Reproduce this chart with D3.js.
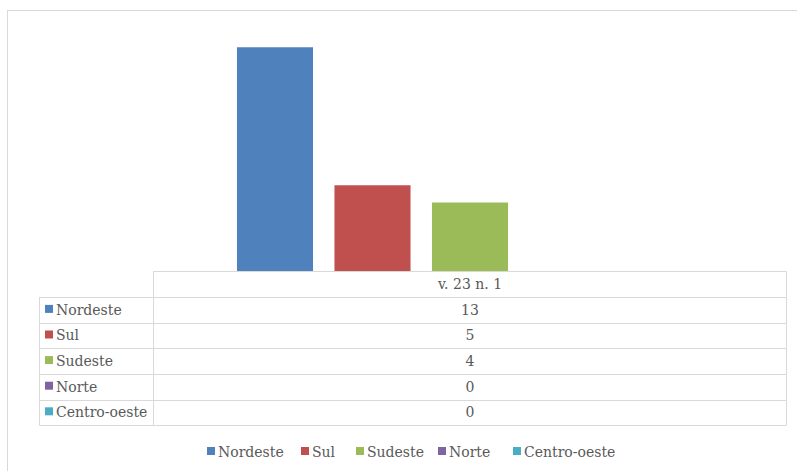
<!DOCTYPE html>
<html>
<head>
<meta charset="utf-8">
<script src="https://cdn.jsdelivr.net/npm/d3@7"></script>
<style>
  body { margin: 0; background: #fff; }
</style>
</head>
<body>
<div id="chart"></div>
<script>
var w = 797, h = 471;

// data
var category = "v. 23 n. 1";
var regions = ["Nordeste", "Sul", "Sudeste", "Norte", "Centro-oeste"];
var values = [13, 5, 4, 0, 0];
var colors = ["#4F81BD", "#C0504D", "#9BBB59", "#8064A2", "#4BACC6"];

var font = "'DejaVu Serif', 'Liberation Serif', serif";
var fontSize = 14;

var svg = d3.select("#chart")
  .append("svg")
  .attr("width", w)
  .attr("height", h)
  .attr("font-family", font)
  .attr("fill", "#595959");

// chart border (runs off the right and bottom edges)
svg.append("rect")
  .attr("x", 7.5).attr("y", 10.5)
  .attr("width", w + 10).attr("height", h + 10)
  .attr("fill", "#fff")
  .attr("stroke", "#d9d9d9");

var tableLeft = 39.5, colX = 153.5, tableRight = 786.5;
var base = 271.5, rowH = 25.6;

var x0 = d3.scaleBand()
  .domain([category])
  .range([colX, tableRight]);

var x1 = d3.scaleBand()
  .domain(regions)
  .range([x0(category), x0(category) + x0.bandwidth()])
  .paddingInner(0.22)
  .paddingOuter(0.856);

var y = d3.scaleLinear()
  .domain([0, 14])
  .range([base, 30]);

svg.selectAll(".bar")
  .data(values)
  .enter().append("rect")
  .attr("class", "bar")
  .attr("x", (d, i) => x1(regions[i]))
  .attr("width", x1.bandwidth())
  .attr("y", d => y(d))
  .attr("height", d => base - y(d))
  .attr("fill", (d, i) => colors[i]);

// data table
var grid = svg.append("g")
  .attr("stroke", "#d9d9d9")
  .attr("fill", "none");

// header row only spans the value column
grid.append("line").attr("x1", colX).attr("x2", tableRight).attr("y1", base).attr("y2", base);
grid.append("line").attr("x1", colX).attr("x2", colX).attr("y1", base).attr("y2", base + rowH * 6);
grid.append("line").attr("x1", tableRight).attr("x2", tableRight).attr("y1", base).attr("y2", base + rowH * 6);
grid.append("line").attr("x1", tableLeft).attr("x2", tableLeft).attr("y1", base + rowH).attr("y2", base + rowH * 6);
for (var r = 1; r <= 6; r++) {
  var yy = Math.round(base + rowH * r) + 0.5;
  grid.append("line").attr("x1", tableLeft).attr("x2", tableRight).attr("y1", yy).attr("y2", yy);
}

svg.append("text")
  .attr("x", x0(category) + x0.bandwidth() / 2)
  .attr("y", base + rowH / 2)
  .attr("dy", "0.35em")
  .attr("text-anchor", "middle")
  .attr("font-size", fontSize)
  .text(category);

regions.forEach(function(name, i) {
  var cy = base + rowH * (i + 1.5);
  svg.append("rect")
    .attr("x", 45).attr("y", cy - 5)
    .attr("width", 8).attr("height", 8)
    .attr("fill", colors[i]);
  svg.append("text")
    .attr("x", 56).attr("y", cy)
    .attr("dy", "0.35em")
    .attr("font-size", fontSize)
    .text(name);
  svg.append("text")
    .attr("x", x0(category) + x0.bandwidth() / 2)
    .attr("y", cy)
    .attr("dy", "0.35em")
    .attr("text-anchor", "middle")
    .attr("font-size", fontSize)
    .text(values[i]);
});

// legend
var legendX = [207, 301, 356, 438, 513];
var legend = svg.append("g");
regions.forEach(function(name, i) {
  legend.append("rect")
    .attr("x", legendX[i]).attr("y", 447)
    .attr("width", 8).attr("height", 8)
    .attr("fill", colors[i]);
  legend.append("text")
    .attr("x", legendX[i] + 11).attr("y", 452)
    .attr("dy", "0.35em")
    .attr("font-size", fontSize)
    .text(name);
});
</script>
</body>
</html>
